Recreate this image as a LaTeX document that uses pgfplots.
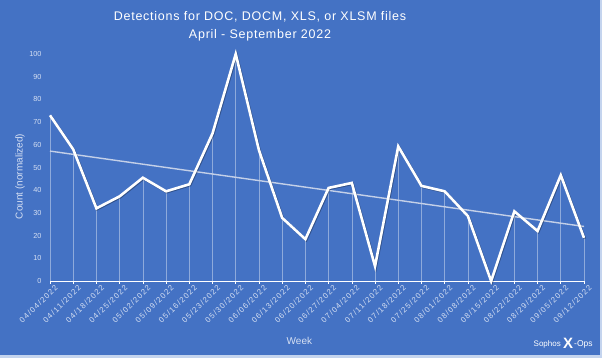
\documentclass[border=0pt]{standalone}
\usepackage{pgfplots}
\usepackage{pgfplotstable}
\pgfplotsset{compat=1.18}
\usepackage{fontspec}
\setmainfont{Liberation Sans}
\newfontfamily\titlefont[LetterSpace=6]{Liberation Sans}
\newfontfamily\tickfont[LetterSpace=16]{Liberation Sans}
\definecolor{bg}{RGB}{68,114,196}
\definecolor{edge}{RGB}{196,212,238}
\definecolor{lbl}{RGB}{214,224,243}
\definecolor{trend}{RGB}{196,208,232}

\pgfplotstableread{
x y
0 73
1 58
2 32
3 37.3
4 45.5
5 39.5
6 42.6
7 65
8 100
9 57.6
10 27.8
11 18.4
12 41
13 43.2
14 6.5
15 59.3
16 41.9
17 39.5
18 28.6
19 0
20 30.7
21 22
22 46.6
23 19
}\datatable

\begin{document}
\begin{tikzpicture}
\fill[edge] (0,0) rectangle (602pt,358pt);
\fill[bg] (0,3pt) rectangle (600pt,358pt);
\useasboundingbox (0,0) rectangle (602pt,358pt);
\node[white, font=\titlefont\fontsize{12.5}{14}\selectfont, align=center] at (260pt,341pt) {Detections for DOC, DOCM, XLS, or XLSM files};
\node[white, font=\titlefont\fontsize{12.5}{14}\selectfont, align=center] at (260pt,323pt) {April - September 2022};
\begin{axis}[
  at={(50pt,77pt)}, anchor=south west,
  scale only axis, width=534pt, height=227pt,
  xmin=0, xmax=23, ymin=0, ymax=100,
  axis x line*=bottom, axis y line*=left,
  y axis line style={draw=none},
  x axis line style={white, line width=0.8pt, -},
  xtick={0,...,23},
  xticklabels={04/04/2022,04/11/2022,04/18/2022,04/25/2022,05/02/2022,05/09/2022,05/16/2022,05/23/2022,05/30/2022,06/06/2022,06/13/2022,06/20/2022,06/27/2022,07/04/2022,07/11/2022,07/18/2022,07/25/2022,08/01/2022,08/08/2022,08/15/2022,08/22/2022,08/29/2022,09/05/2022,09/12/2022},
  ytick={0,10,...,100},
  tick align=outside,
  major tick length=3pt,
  xtick style={white, line width=0.6pt},
  ytick style={draw=none},
  xticklabel style={rotate=45, anchor=east, font=\tickfont\fontsize{7.8}{8}\selectfont, text=lbl, inner sep=0pt, xshift=3pt, yshift=-6pt},
  yticklabel style={font=\fontsize{7.3}{8}\selectfont, text=lbl, xshift=-2pt},
  /pgf/number format/assume math mode=true,
  xlabel={Week},
  xlabel style={at={(axis description cs:0.467,0)}, anchor=center, yshift=-60pt, font=\fontsize{10}{12}\selectfont, text=lbl},
  ylabel={Count (normalized)},
  ylabel style={at={(axis description cs:-0.056,0.46)}, anchor=center, font=\fontsize{10}{12}\selectfont, text=lbl},
  clip=false,
]
\addplot[ycomb, white, opacity=0.4, line width=0.6pt, mark=none] table[x=x,y=y] {\datatable};
\addplot[trend, line width=1.4pt, mark=none] table[x=x, y={create col/linear regression={y=y}}] {\datatable};
\addplot[black, opacity=0.3, line width=2.6pt, mark=none, transform canvas={xshift=0.8pt,yshift=-0.8pt}] table[x=x,y=y] {\datatable};
\addplot[white, line width=2.6pt, mark=none, line join=miter] table[x=x,y=y] {\datatable};
\end{axis}
\node[white, anchor=east, inner sep=0pt, font=\fontsize{8}{9}\selectfont] at (561pt,14pt) {Sophos};
\node[white, anchor=center, inner sep=0pt, font=\fontsize{15}{16}\selectfont\bfseries] at (568pt,14.5pt) {X};
\node[white, anchor=west, inner sep=0pt, font=\fontsize{8.5}{9}\selectfont] at (574pt,14pt) {-Ops};
\end{tikzpicture}
\end{document}
